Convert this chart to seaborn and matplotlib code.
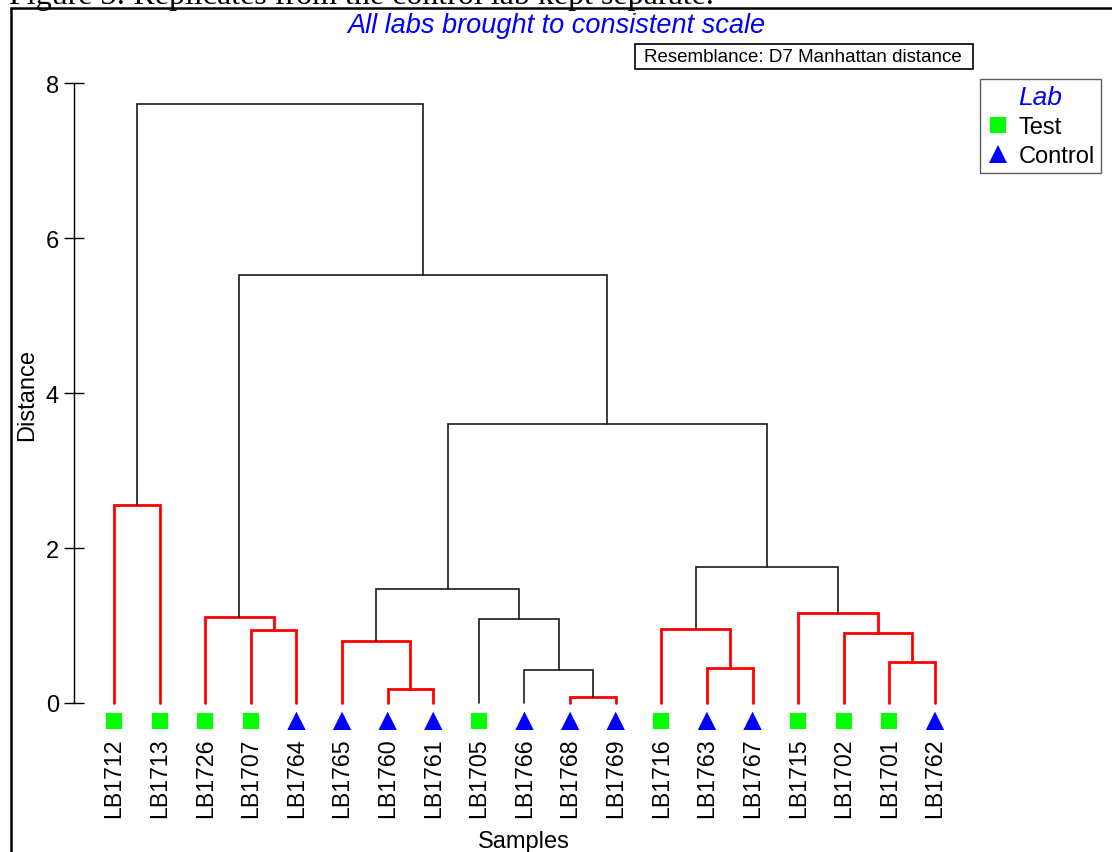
import numpy as np
import pandas as pd
import matplotlib
matplotlib.use("Agg")
import matplotlib.pyplot as plt
import seaborn as sns
from matplotlib.lines import Line2D
from matplotlib.patches import Rectangle

# ---------------- data ----------------
samples = ["LB1712", "LB1713", "LB1726", "LB1707", "LB1764", "LB1765", "LB1760",
           "LB1761", "LB1705", "LB1766", "LB1768", "LB1769", "LB1716", "LB1763",
           "LB1767", "LB1715", "LB1702", "LB1701", "LB1762"]
labs = ["Test", "Test", "Test", "Test", "Control", "Control", "Control",
        "Control", "Test", "Control", "Control", "Control", "Test", "Control",
        "Control", "Test", "Test", "Test", "Control"]

# linkage (scipy-style: leaves 0..18, new clusters 19..)
merge_left = [10, 6, 9, 13, 17, 5, 16, 3, 12, 8, 2, 15, 24, 27, 0, 31, 29, 33]
merge_right = [11, 7, 19, 14, 18, 20, 23, 4, 22, 21, 26, 25, 28, 30, 1, 32, 34, 35]
merge_height = [0.08, 0.18, 0.43, 0.45, 0.53, 0.80, 0.90, 0.945, 0.96, 1.09,
                1.11, 1.165, 1.47, 1.76, 2.55, 3.60, 5.53, 7.73]
merge_red = [True, True, False, True, True, True, True, True, True, False,
             True, True, False, False, True, False, False, False]

y_ticks = [0, 2, 4, 6, 8]

# ---------------- figure ----------------
sns.set_style("white")
plt.rcParams["font.family"] = ["Liberation Sans", "DejaVu Sans"]
plt.rcParams["text.color"] = "black"
plt.rcParams["axes.labelcolor"] = "black"
plt.rcParams["xtick.color"] = "black"
plt.rcParams["ytick.color"] = "black"

W, H = 1112, 853
fig = plt.figure(figsize=(W / 100, H / 100), dpi=100)

# axes geometry (pixel based)
leaf0_px, leaf_dx = 114.0, 45.61
spine_px = 73.5
y0_px, y_unit = 704.0, 77.46
xmin = -(leaf0_px - spine_px) / leaf_dx
xmax = 19.5
ymin, ymax = -0.35, 8.6
left_px = spine_px
right_px = leaf0_px + xmax * leaf_dx
bot_px = y0_px - ymin * y_unit
top_px = y0_px - ymax * y_unit
ax = fig.add_axes([left_px / W, 1 - bot_px / H, (right_px - left_px) / W, (bot_px - top_px) / H])
ax.set_xlim(xmin, xmax)
ax.set_ylim(ymin, ymax)

# dendrogram
n = len(samples)
pos = {i: float(i) for i in range(n)}
ht = {i: 0.0 for i in range(n)}
for k, (a, b, h, red) in enumerate(zip(merge_left, merge_right, merge_height, merge_red)):
    xs = [pos[a], pos[a], pos[b], pos[b]]
    ys = [ht[a], h, h, ht[b]]
    if red:
        ax.plot(xs, ys, color="#FF0000", lw=2.0, solid_joinstyle="miter", zorder=2)
    else:
        ax.plot(xs, ys, color="#1a1a1a", lw=1.2, solid_joinstyle="miter", zorder=3)
    pos[n + k] = (pos[a] + pos[b]) / 2
    ht[n + k] = h

# markers
df = pd.DataFrame({"x": np.arange(n), "y": -0.23, "Lab": labs, "Sample": samples})
palette = {"Test": "#00FF00", "Control": "#0000FF"}
sub = df[df.Lab == "Test"]
sns.scatterplot(data=sub, x="x", y="y", hue="Lab", palette=palette, marker="s",
                s=135, linewidth=0, legend=False, ax=ax, zorder=4)
sub = df[df.Lab == "Control"]
sns.scatterplot(data=sub, x="x", y="y", hue="Lab", palette=palette, marker="^",
                s=175, linewidth=0, legend=False, ax=ax, zorder=4)

# axes styling
for s in ["top", "right", "bottom"]:
    ax.spines[s].set_visible(False)
ax.spines["left"].set_bounds(0, 8)
ax.spines["left"].set_color("black")
ax.spines["left"].set_linewidth(1.0)
ax.set_yticks(y_ticks)
ax.tick_params(axis="y", direction="inout", length=13.7, width=1.0, pad=3.6,
               labelsize=17, colors="black", left=True)
ax.set_xticks(np.arange(n))
ax.set_xticklabels(samples, rotation=90, fontsize=16.7, color="black")
ax.tick_params(axis="x", length=0, pad=5.5)
ax.set_xlabel("")
ax.set_ylabel("")

# labels
fig.text(27 / W, 1 - 395 / H, "Distance", rotation=90, ha="center", va="center", fontsize=17)
fig.text(524 / W, 1 - 842 / H, "Samples", ha="center", va="center", fontsize=17)
fig.text(556 / W, 1 - 26 / H, "All labs brought to consistent scale", ha="center", va="center",
         fontsize=19.5, style="italic", color="#0000FF")

# resemblance box
fig.add_artist(Rectangle((635 / W, 1 - 70 / H), (973 - 635) / W, 25 / H, transform=fig.transFigure,
                         fill=False, edgecolor="black", lw=1.2))
fig.text(644 / W, 1 - 57.5 / H, "Resemblance: D7 Manhattan distance", ha="left", va="center",
         fontsize=13.5)

# figure frame and clipped caption
fig.add_artist(Rectangle((10.5 / W, -0.1), 1.2, 1.1 - 9.5 / H, transform=fig.transFigure,
                         fill=False, edgecolor="black", lw=1.8, clip_on=False))
fig.text(9 / W, 1 - 4 / H, "Figure 3: Replicates from the control lab kept separate.",
         ha="left", va="baseline", fontsize=23, family="Liberation Serif")

# legend
handles = [Line2D([], [], marker="s", color="none", markerfacecolor="#00FF00", markeredgewidth=0,
                  markersize=11.5, label="Test"),
           Line2D([], [], marker="^", color="none", markerfacecolor="#0000FF", markeredgewidth=0,
                  markersize=13, label="Control")]
leg = fig.legend(handles=handles, title="Lab", loc="upper right",
                 bbox_to_anchor=(1101 / W, 1 - 80 / H), fontsize=17, title_fontsize=19,
                 frameon=True, fancybox=False, edgecolor="#333333", borderaxespad=0,
                 handlelength=1.0, handletextpad=0.4, borderpad=0.25, labelspacing=0.3)
leg.get_frame().set_linewidth(1.0)
leg.get_title().set_color("#0000FF")
leg.get_title().set_style("italic")

fig.savefig("out.png", dpi=100)
